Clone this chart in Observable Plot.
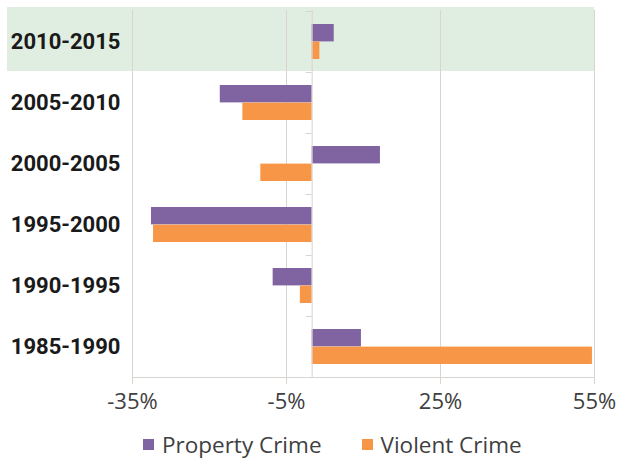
<!DOCTYPE html>
<html>
<head>
<meta charset="utf-8">
<script src="https://cdn.jsdelivr.net/npm/d3@7"></script>
<script src="https://cdn.jsdelivr.net/npm/@observablehq/plot@0.6"></script>
<style>
  html, body { margin: 0; padding: 0; background: #fff; }
  #chart { width: 621px; }
  .legend { height: 29px; display: flex; align-items: center; padding-left: 143px;
            font-family: "Open Sans", sans-serif; font-size: 22.5px; color: #404040; line-height: 26px; }
  .legend .item { display: flex; align-items: center; }
  .legend .sw { width: 11px; height: 11px; margin-right: 8px; display: inline-block; }
</style>
</head>
<body>
<div id="chart"></div>
<script>
const periods = ["2010-2015", "2005-2010", "2000-2005", "1995-2000", "1990-1995", "1985-1990"];
const propertyCrime = [4.3, -17.9, 13.3, -31.3, -7.6, 9.6];
const violentCrime = [1.5, -13.5, -10.0, -30.9, -2.3, 54.6];
const seriesNames = ["Property Crime", "Violent Crime"];
const seriesColors = ["#8064a2", "#f79646"];
const xTicks = [-35, -5, 25, 55];
const xDomain = [-35, 55];
const highlighted = ["2010-2015"];

const gridColor = "#d9d4d0";

const propData = periods.map((p, i) => ({period: p, value: propertyCrime[i]}));
const violData = periods.map((p, i) => ({period: p, value: violentCrime[i]}));

const zeroTicks = (index, scales) => {
  const g = d3.create("svg:g").attr("stroke", gridColor);
  const x0 = scales.x(0);
  for (const p of periods) {
    const yy = Math.round(scales.y(p)) + 0.5;
    g.append("line").attr("x1", x0 - 6).attr("x2", x0).attr("y1", yy).attr("y2", yy);
  }
  return g.node();
};

const chart = Plot.plot({
  width: 621,
  height: 430,
  marginLeft: 132,
  marginRight: 27,
  marginTop: 10,
  marginBottom: 53,
  style: {background: "transparent"},
  x: {domain: xDomain, axis: null, label: null},
  y: {domain: periods, padding: 0, axis: null, label: null},
  marks: [
    Plot.barX(highlighted, {y: d => d, x1: xDomain[0], x2: xDomain[1], insetLeft: -125, insetTop: -4, insetBottom: 1, fill: "#dfeee0"}),
    Plot.gridX({ticks: xTicks, stroke: gridColor, strokeOpacity: 1}),
    Plot.barX(propData, {y: "period", x: "value", fill: seriesColors[0], insetTop: 13, insetBottom: 30.6}),
    Plot.barX(violData, {y: "period", x: "value", fill: seriesColors[1], insetTop: 30.6, insetBottom: 13}),
    Plot.ruleX([0], {stroke: gridColor}),
    zeroTicks,
    Plot.frame({anchor: "bottom", stroke: gridColor}),
    Plot.axisX({ticks: xTicks, tickFormat: d => d + "%", tickSize: 7, tickPadding: 9, stroke: gridColor,
                fill: "#404040", fontSize: 22, fontFamily: "Open Sans", label: null}),
    Plot.axisY({tickSize: 0, tickPadding: 12, fill: "#1a1a1a", fontSize: 22, fontWeight: "bold", fontFamily: "Roboto", label: null})
  ]
});
document.getElementById("chart").appendChild(chart);

const legend = document.createElement("div");
legend.className = "legend";
seriesNames.forEach((name, i) => {
  const item = document.createElement("span");
  item.className = "item";
  if (i > 0) item.style.marginLeft = "40px";
  const sw = document.createElement("span");
  sw.className = "sw";
  sw.style.background = seriesColors[i];
  item.appendChild(sw);
  item.appendChild(document.createTextNode(name));
  legend.appendChild(item);
});
document.getElementById("chart").appendChild(legend);
</script>
</body>
</html>
